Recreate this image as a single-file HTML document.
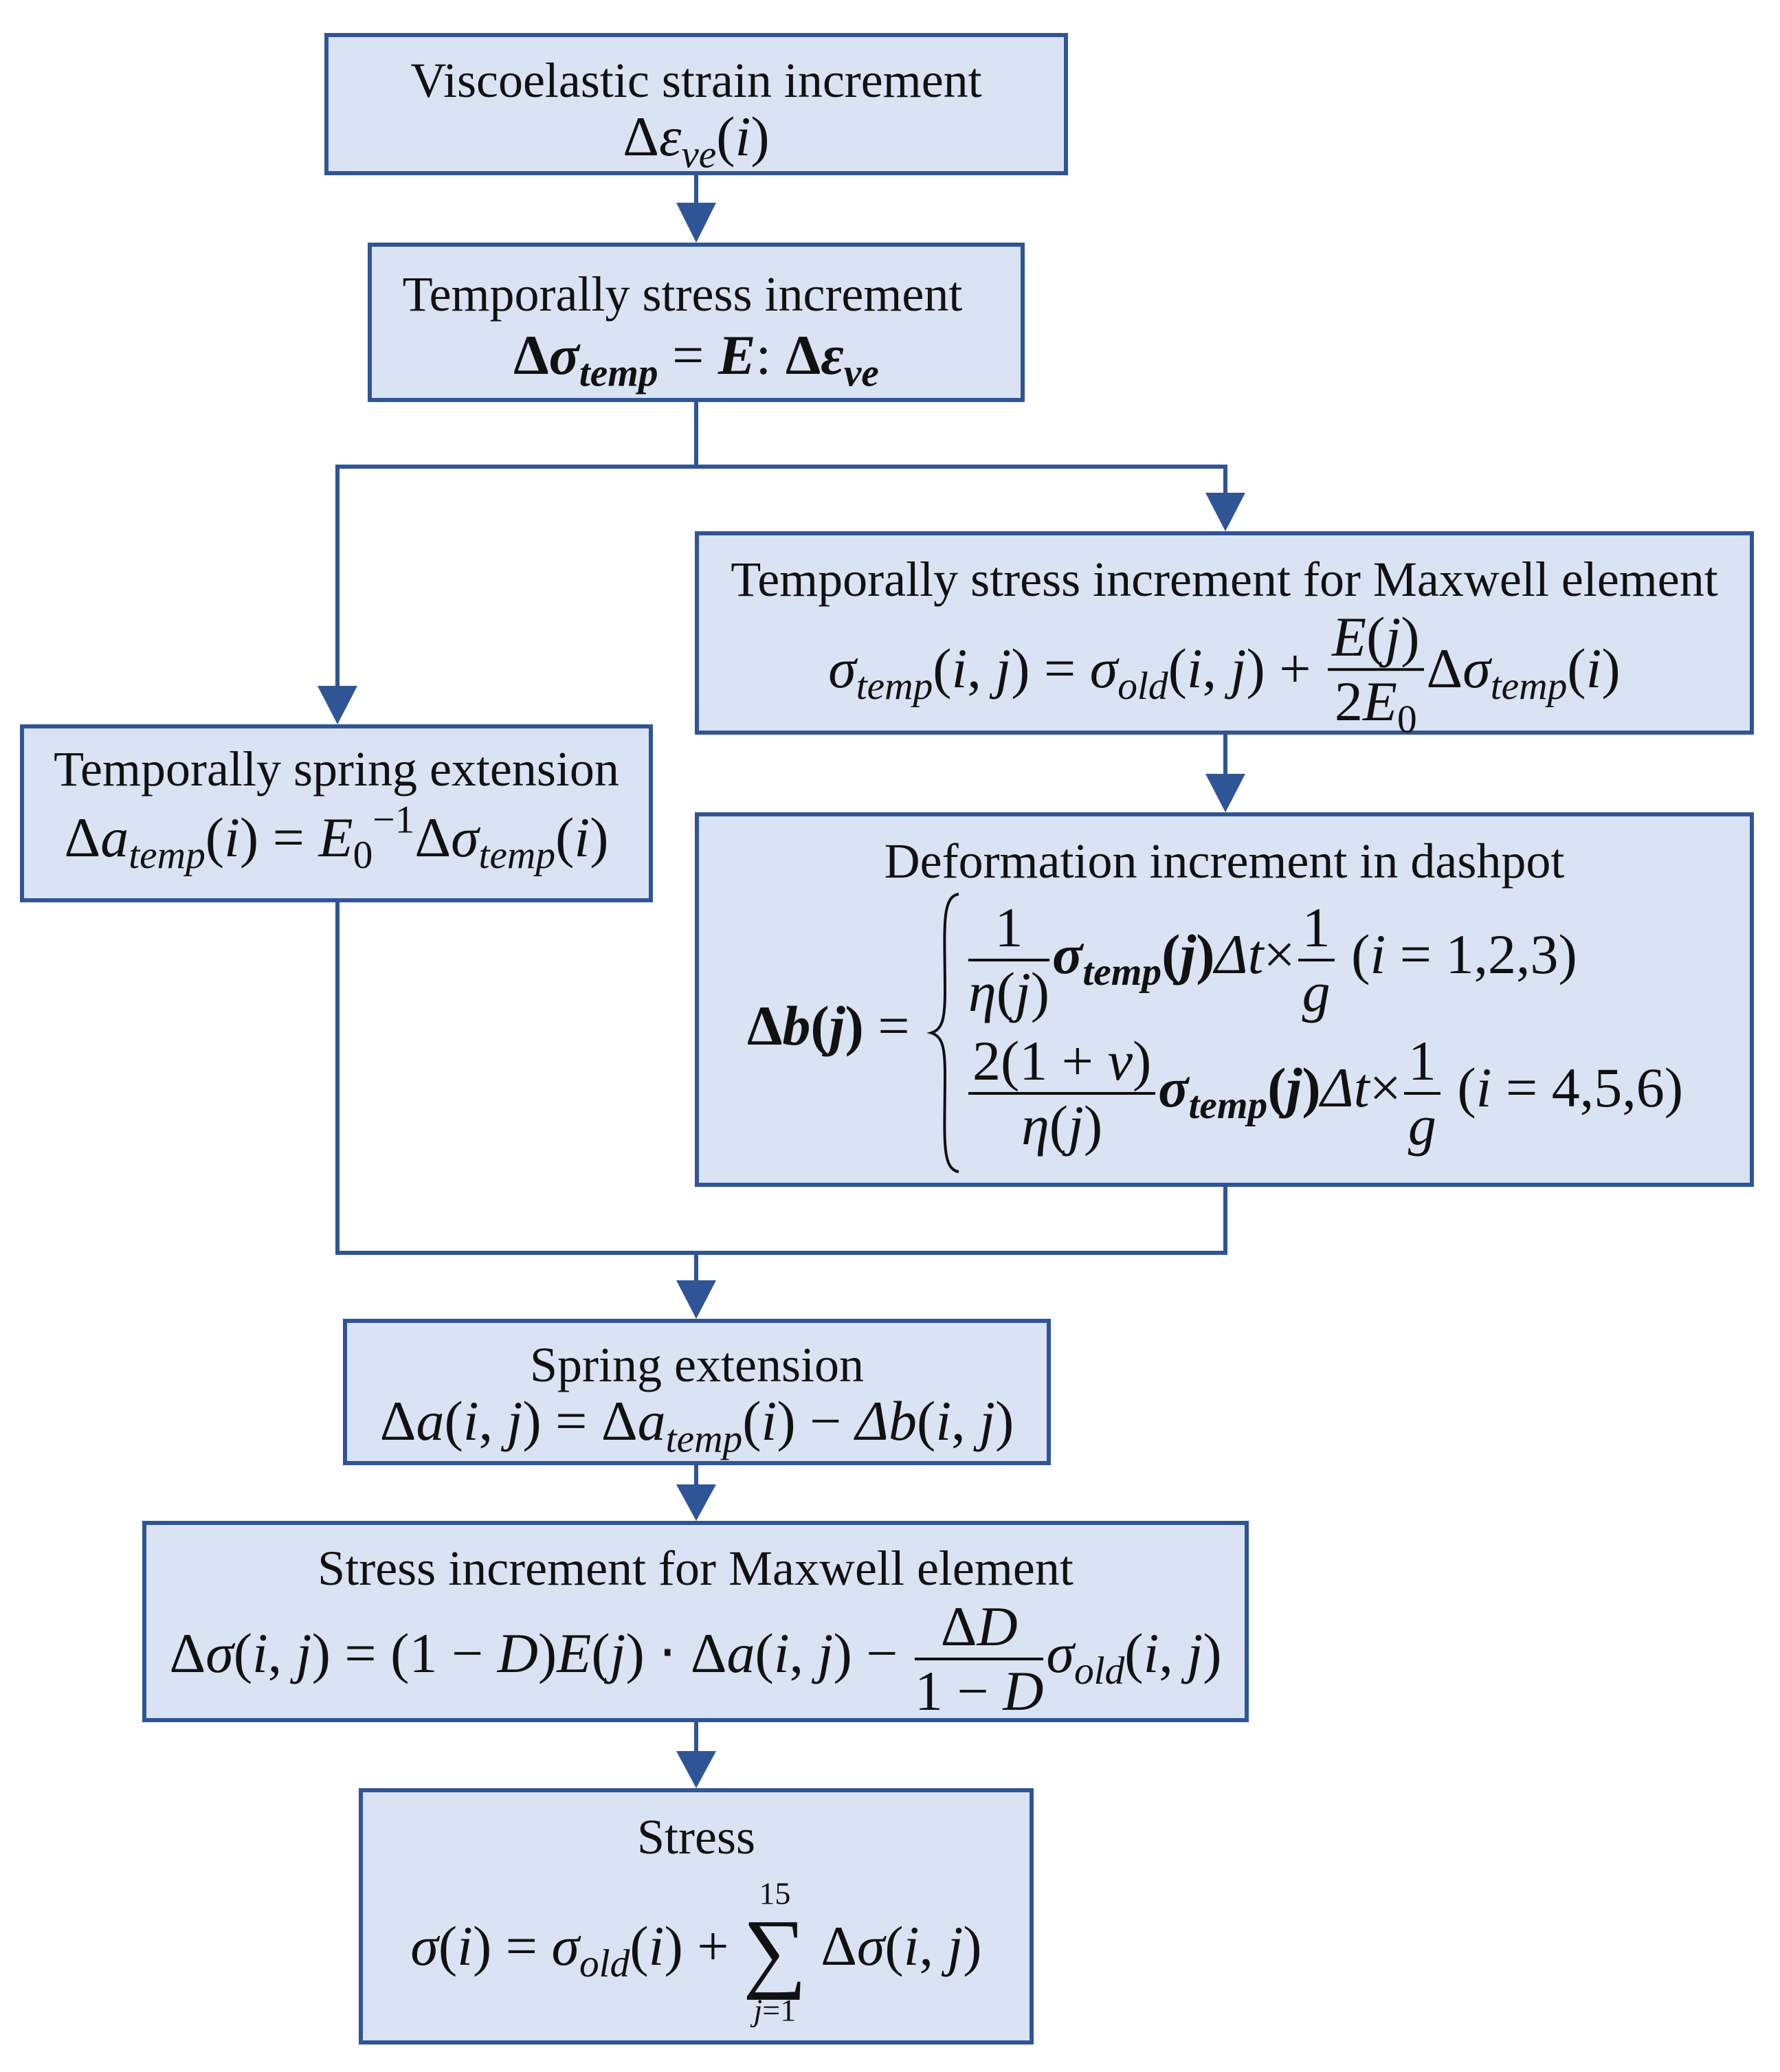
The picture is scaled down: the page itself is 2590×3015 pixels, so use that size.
<!DOCTYPE html>
<html><head><meta charset="utf-8"><style>
body{margin:0;width:2590px;height:3015px;background:#fff;position:relative;overflow:hidden;font-family:"Liberation Serif",serif;}
.box{position:absolute;background:#dae3f3;border:6px solid #2f5597;box-sizing:border-box;}
.t{position:absolute;left:0;right:0;text-align:center;font-size:72px;color:#111;white-space:nowrap;transform:translateY(-50%);line-height:1;}
.m{font-size:82px}
i{font-style:italic}
sub{font-size:0.7em;vertical-align:-0.3em;font-style:italic}
sup{font-size:0.7em;vertical-align:0.6em}
.fr{display:inline-flex;flex-direction:column;vertical-align:middle;text-align:center;margin:0 4px}
.fr>span:first-child{border-bottom:4px solid #111;padding:0 6px 4px}
.fr>span:last-child{padding-top:4px}
svg{position:absolute;left:0;top:0}
</style></head><body>
<svg width="2590" height="3015">
<g stroke="#2f5597" stroke-width="6" fill="none">
<line x1="1013" y1="255" x2="1013" y2="300"/>
<polyline points="1013,585 1013,679 491,679 491,1000"/>
<polyline points="1013,679 1783,679 1783,720"/>
<line x1="1783" y1="1069" x2="1783" y2="1128"/>
<polyline points="491,1313 491,1823 1783,1823 1783,1727"/>
<line x1="1013" y1="1823" x2="1013" y2="1865"/>
<line x1="1013" y1="2132" x2="1013" y2="2160"/>
<line x1="1013" y1="2506" x2="1013" y2="2550"/>
</g>
<g fill="#2f5597">
<polygon points="984,295 1042,295 1013,353"/>
<polygon points="462,998 520,998 491,1054"/>
<polygon points="1754,717 1812,717 1783,773"/>
<polygon points="1754,1126 1812,1126 1783,1182"/>
<polygon points="984,1863 1042,1863 1013,1919"/>
<polygon points="984,2160 1042,2160 1013,2213"/>
<polygon points="984,2548 1042,2548 1013,2602"/>
</g>
</svg>

<div class="box" style="left:472px;top:48px;width:1082px;height:207px">
<div class="t" style="top:63px">Viscoelastic strain increment</div>
<div class="t m" style="top:152px">Δ<i>ε</i><sub>ve</sub>(<i>i</i>)</div>
</div>

<div class="box" style="left:535px;top:353px;width:956px;height:232px">
<div class="t" style="top:69px;padding-right:40px">Temporally stress increment</div>
<div class="t m" style="top:165px"><b>Δ<i>σ</i><sub><b>temp</b></sub></b> = <b><i>E</i></b>: <b>Δ<i>ε</i><sub><b>ve</b></sub></b></div>
</div>

<div class="box" style="left:29px;top:1054px;width:921px;height:259px">
<div class="t" style="top:59px">Temporally spring extension</div>
<div class="t m" style="top:159px">Δ<i>a</i><sub>temp</sub>(<i>i</i>) = <i>E</i><sub style="font-style:normal">0</sub><sup>−1</sup>Δ<i>σ</i><sub>temp</sub>(<i>i</i>)</div>
</div>

<div class="box" style="left:1011px;top:773px;width:1541px;height:296px">
<div class="t" style="top:64px">Temporally stress increment for Maxwell element</div>
<div class="t m" style="top:202px"><i>σ</i><sub>temp</sub>(<i>i</i>, <i>j</i>) = <i>σ</i><sub>old</sub>(<i>i</i>, <i>j</i>) + <span class="fr"><span><i>E</i>(<i>j</i>)</span><span>2<i>E</i><sub style="font-style:normal">0</sub></span></span>Δ<i>σ</i><sub>temp</sub>(<i>i</i>)</div>
</div>

<div class="box" style="left:1011px;top:1182px;width:1541px;height:545px">
<div class="t" style="top:65px">Deformation increment in dashpot</div>
<div class="t m" style="top:305px;left:70px;right:auto;text-align:left"><b>Δ<i>b</i>(<i>j</i>)</b> =</div>
<svg width="60" height="420" style="left:330px;top:105px"><path d="M48,8 C22,12 28,60 28,150 C28,190 24,205 8,210 C24,215 28,230 28,270 C28,360 22,408 48,412" stroke="#111" stroke-width="4" fill="none"/></svg>
<div class="t m" style="top:209px;left:388px;right:auto;text-align:left"><span class="fr"><span>1</span><span><i>η</i>(<i>j</i>)</span></span><b><i>σ</i><sub><b>temp</b></sub>(<i>j</i>)</b><i>Δt</i>×<span class="fr"><span>1</span><span><i>g</i></span></span> (<i>i</i> = 1,2,3)</div>
<div class="t m" style="top:403px;left:388px;right:auto;text-align:left"><span class="fr"><span>2(1 + <i>ν</i>)</span><span><i>η</i>(<i>j</i>)</span></span><b><i>σ</i><sub><b>temp</b></sub>(<i>j</i>)</b><i>Δt</i>×<span class="fr"><span>1</span><span><i>g</i></span></span> (<i>i</i> = 4,5,6)</div>
</div>

<div class="box" style="left:499px;top:1919px;width:1030px;height:213px">
<div class="t" style="top:61px">Spring extension</div>
<div class="t m" style="top:150px">Δ<i>a</i>(<i>i</i>, <i>j</i>) = Δ<i>a</i><sub>temp</sub>(<i>i</i>) − <i>Δb</i>(<i>i</i>, <i>j</i>)</div>
</div>

<div class="box" style="left:207px;top:2213px;width:1610px;height:293px">
<div class="t" style="top:63px">Stress increment for Maxwell element</div>
<div class="t m" style="top:195px">Δ<i>σ</i>(<i>i</i>, <i>j</i>) = (1 − <i>D</i>)<i>E</i>(<i>j</i>) ⋅ Δ<i>a</i>(<i>i</i>, <i>j</i>) − <span class="fr"><span>Δ<i>D</i></span><span>1 − <i>D</i></span></span><i>σ</i><sub>old</sub>(<i>i</i>, <i>j</i>)</div>
</div>

<div class="box" style="left:522px;top:2602px;width:982px;height:373px">
<div class="t" style="top:65px">Stress</div>
<div class="t m" style="top:232px"><i>σ</i>(<i>i</i>) = <i>σ</i><sub>old</sub>(<i>i</i>) + <span style="display:inline-flex;flex-direction:column;vertical-align:middle;text-align:center;line-height:1"><span style="font-size:46px">15</span><span style="font-size:130px;line-height:0.95">∑</span><span style="font-size:46px"><i>j</i>=1</span></span> Δ<i>σ</i>(<i>i</i>, <i>j</i>)</div>
</div>
</body></html>
